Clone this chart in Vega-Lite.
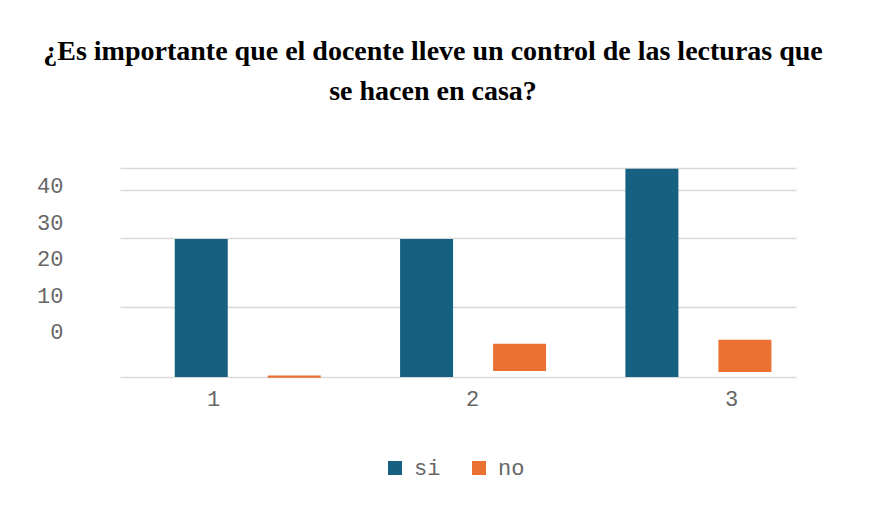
{
  "$schema": "https://vega.github.io/schema/vega-lite/v6.json",
  "autosize": {"type": "none"},
  "width": 676,
  "height": 209,
  "padding": {"left": 120, "top": 168, "right": 87, "bottom": 132},
  "background": "white",
  "config": {"view": {"stroke": null}},
  "title": {
    "text": ["¿Es importante que el docente lleve un control de las lecturas que", "se hacen en casa?"],
    "font": "Liberation Serif, Times New Roman, serif",
    "fontSize": 28,
    "fontWeight": "bold",
    "color": "#000000",
    "anchor": "middle",
    "dx": -25,
    "offset": 62,
    "lineHeight": 40
  },
  "data": {
    "values": [
      {"grupo": 1, "serie": "si", "inicio": 0, "valor": 19.8},
      {"grupo": 1, "serie": "no", "inicio": -0.1, "valor": 0.2},
      {"grupo": 2, "serie": "si", "inicio": 0, "valor": 19.8},
      {"grupo": 2, "serie": "no", "inicio": 0.87, "valor": 4.76},
      {"grupo": 3, "serie": "si", "inicio": 0, "valor": 29.9},
      {"grupo": 3, "serie": "no", "inicio": 0.72, "valor": 5.34}
    ]
  },
  "layer": [
    {
      "mark": {"type": "bar"},
      "encoding": {
        "x": {"field": "grupo", "type": "ordinal", "axis": null, "scale": {"paddingInner": 0, "paddingOuter": 0}},
        "xOffset": {"field": "serie", "type": "nominal", "scale": {"domain": ["si", "no"], "paddingInner": 0.43, "paddingOuter": 0.4265, "align": 0.69}},
        "y": {
          "field": "valor", "type": "quantitative",
          "scale": {"domain": [0, 30], "nice": false, "zero": false},
          "axis": {"orient": "left", "labels": false, "ticks": false, "domain": false, "grid": true, "values": [0, 10, 20, 26.8, 30], "gridColor": "#d9d9d9", "gridWidth": 1.6, "title": null}
        },
        "y2": {"field": "inicio"},
        "color": {
          "field": "serie", "type": "nominal",
          "scale": {"domain": ["si", "no"], "range": ["#166082", "#EA7132"]},
          "legend": {
            "orient": "none", "legendX": 264, "legendY": 289, "direction": "horizontal", "title": null,
            "symbolType": "square", "symbolSize": 196, "symbolStrokeWidth": 0, "symbolOpacity": 1,
            "labelFont": "Liberation Mono", "labelFontSize": 22, "labelColor": "#666666",
            "labelOffset": 8, "columnPadding": 27
          }
        }
      }
    },
    {
      "mark": {"type": "point", "opacity": 0},
      "encoding": {
        "x": {
          "field": "grupo", "type": "quantitative",
          "scale": {"domain": [0.641, 3.251], "nice": false, "zero": false},
          "axis": {"orient": "bottom", "values": [1, 2, 3], "format": "d", "grid": false, "ticks": false, "domain": false, "labelPadding": 11, "labelFont": "Liberation Mono", "labelFontSize": 22, "labelColor": "#666666", "title": null}
        },
        "y": {
          "field": "valor", "type": "quantitative",
          "scale": {"domain": [-12.33, 44.93], "nice": false, "zero": false},
          "axis": {"orient": "left", "values": [0, 10, 20, 30, 40], "format": "d", "grid": false, "ticks": false, "domain": false, "labelPadding": 57, "labelFont": "Liberation Mono", "labelFontSize": 22, "labelColor": "#666666", "title": null}
        }
      }
    }
  ],
  "resolve": {"scale": {"x": "independent", "y": "independent"}}
}
